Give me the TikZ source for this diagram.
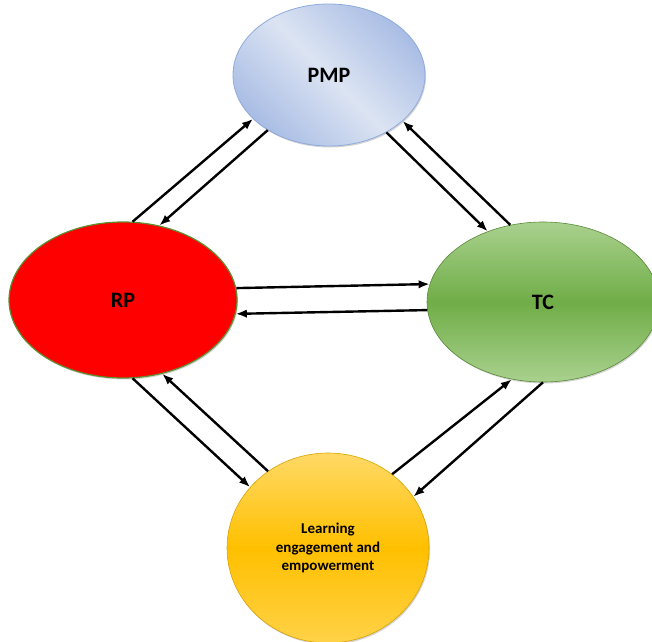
\documentclass[tikz,border=0pt]{standalone}
\usepackage{fontspec}
\setmainfont{Carlito}
\usepackage{xcolor}
\usepackage{tikz}
\usetikzlibrary{arrows.meta,shapes.geometric,shadows}

\definecolor{pmplight}{HTML}{DCE4F3}
\definecolor{pmpdark}{HTML}{A9BDE4}
\definecolor{pmpline}{HTML}{8FAADC}
\definecolor{rpline}{HTML}{5E8F30}
\definecolor{tclight}{HTML}{A9D18E}
\definecolor{tcmid}{HTML}{70AD47}
\definecolor{lelight}{HTML}{FFD966}
\definecolor{lemid}{HTML}{FFC000}

\begin{document}
\begin{tikzpicture}[
  x=1pt, y=1pt,
  font=\bfseries,
  blob/.style={ellipse, inner sep=0pt, align=center,
               drop shadow={opacity=0.35, shadow xshift=1pt, shadow yshift=-1.5pt}},
  link/.style={-{Latex[length=11pt,width=8.5pt]}, line width=2.4pt, black},
]
\useasboundingbox (0,0) rectangle (652,641);
\clip (0,0) rectangle (652,641);

% the four ellipses
\node[blob, minimum width=192pt, minimum height=142pt, draw=pmpline, line width=0.8pt,
      left color=pmpdark, right color=pmpdark, middle color=pmplight, shading angle=135,
      font=\bfseries\fontsize{22}{26}\selectfont] (pmp) at (329,566) {PMP};
\node[blob, minimum width=228pt, minimum height=156pt, draw=rpline, line width=1.2pt,
      fill=red, font=\bfseries\fontsize{22}{26}\selectfont] (rp) at (123,341) {RP};
\node[blob, minimum width=232pt, minimum height=160pt, draw=tcmid!80!black, line width=0.6pt,
      top color=tclight, bottom color=tclight, middle color=tcmid,
      font=\bfseries\fontsize{22}{26}\selectfont] (tc) at (543,339) {TC};
\node[blob, minimum width=202pt, minimum height=190pt, draw=lemid!85!black, line width=0.6pt,
      top color=lelight, bottom color=lelight!70!lemid, middle color=lemid,
      font=\bfseries\fontsize{15}{18.3}\selectfont] (learn) at (328,93)
      {Learning\\engagement and\\empowerment};

% RP -- PMP
\draw[link] (rp.83) -- (pmp.210);
\draw[link] (pmp.222) -- (rp.64);
% PMP -- TC
\draw[link] (pmp.315) -- (tc.128);
\draw[link] (tc.113) -- (pmp.328);
% RP -- TC
\draw[link] (rp.6) -- (tc.171);
\draw[link] (tc.184) -- (rp.353);
% RP -- learning
\draw[link] (rp.277) -- (learn.142);
\draw[link] (learn.128) -- (rp.298);
% learning -- TC
\draw[link] (learn.49) -- (tc.248);
\draw[link] (tc.270) -- (learn.31);
\end{tikzpicture}
\end{document}
